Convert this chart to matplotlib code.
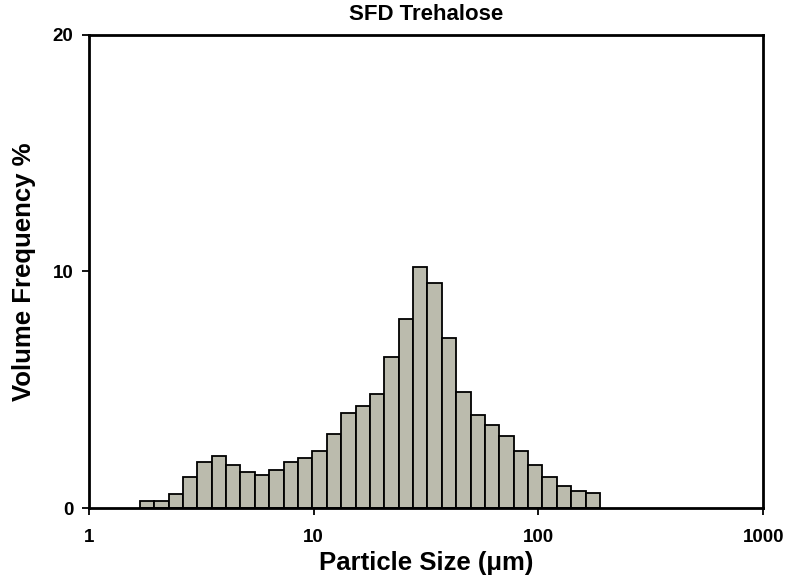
import numpy as np
import matplotlib
matplotlib.use('Agg')
import matplotlib.pyplot as plt

# bin edges (log-spaced) and volume frequency per bin
bin_start = 1.685
bin_end = 188.0
n_bins = 32
freq = [0.31, 0.31, 0.61, 1.33, 1.93, 2.2, 1.8, 1.52, 1.4, 1.6, 1.93, 2.1,
        2.4, 3.12, 4.0, 4.33, 4.8, 6.4, 8.0, 10.2, 9.5, 7.2, 4.9, 3.92,
        3.53, 3.03, 2.43, 1.81, 1.33, 0.92, 0.73, 0.62]
x_ticks = [1, 10, 100, 1000]
x_ticklabels = ['1', '10', '100', '1000']
y_ticks = [0, 10, 20]

edges = np.geomspace(bin_start, bin_end, n_bins + 1)

plt.rcParams['font.family'] = ['Liberation Sans', 'DejaVu Sans']
plt.rcParams['font.weight'] = 'bold'

fig = plt.figure(figsize=(8, 5.8), dpi=100)
ax = fig.add_axes([0.111, 0.124, 0.843, 0.816])

ax.bar(edges[:-1], freq, width=np.diff(edges), align='edge',
       color='#BBBBAD', edgecolor='black', linewidth=1.3)

ax.set_xscale('log')
ax.set_xlim(1, 1000)
ax.set_ylim(0, 20)
ax.set_xticks(x_ticks)
ax.set_xticklabels(x_ticklabels)
ax.xaxis.set_minor_locator(matplotlib.ticker.NullLocator())
ax.set_yticks(y_ticks)

for s in ax.spines.values():
    s.set_linewidth(2.0)
ax.tick_params(axis='both', length=5, width=1.3, labelsize=13.5, pad=6)
ax.tick_params(axis='x', pad=10)

ax.set_title('SFD Trehalose', fontsize=16, fontweight='bold', pad=11)
ax.set_xlabel('Particle Size (μm)', fontsize=18.5, fontweight='bold', labelpad=4)
ax.set_ylabel('Volume Frequency %', fontsize=18.5, fontweight='bold', labelpad=12)

fig.savefig('out.png', dpi=100)
